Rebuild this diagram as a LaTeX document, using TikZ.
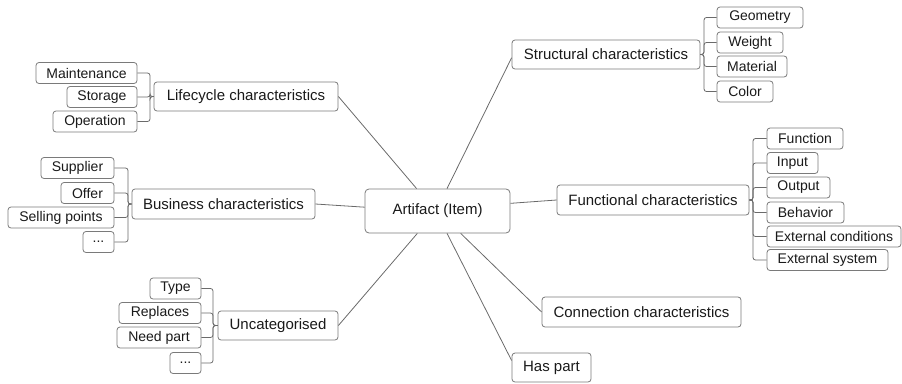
\documentclass[tikz,border=0pt]{standalone}
\usepackage{fontspec}
\setmainfont{Liberation Sans}
\usetikzlibrary{calc}
\definecolor{boxgray}{HTML}{7A7A7A}
\definecolor{linegray}{HTML}{6A6A6A}
\definecolor{txt}{HTML}{1A1A1A}
\begin{document}
\begin{tikzpicture}[x=1pt,y=-1pt,
  box/.style={draw=boxgray, rounded corners=3pt, line width=0.8pt, inner sep=0pt, align=center, text=txt, fill=white},
  mainbox/.style={box, font=\fontsize{15}{18}\selectfont, minimum height=29pt},
  leaf/.style={box, font=\fontsize{14}{16}\selectfont, minimum height=21pt},
  link/.style={draw=linegray, line width=0.8pt},
  bracket/.style={link, rounded corners=2.5pt}]
\useasboundingbox (0,0) rectangle (902,383);

% central node
\node[mainbox, minimum width=145pt, minimum height=44pt, rounded corners=4pt] (ai) at (437.5,211) {Artifact (Item)};

% main branches
\node[mainbox, minimum width=184pt] (lc) at (246,96.5) {Lifecycle characteristics};
\node[mainbox, minimum width=183pt, minimum height=30pt] (bu) at (223.5,204) {Business characteristics};
\node[mainbox, minimum width=120pt] (uc) at (278,325.5) {Uncategorised};
\node[mainbox, minimum width=188pt] (st) at (606,54.5) {Structural characteristics};
\node[mainbox, minimum width=192pt, minimum height=30pt] (fu) at (653,200) {Functional characteristics};
\node[mainbox, minimum width=199pt, minimum height=30pt] (co) at (641.5,312) {Connection characteristics};
\node[mainbox, minimum width=79pt] (hp) at (551.5,367.5) {Has part};

% lifecycle leaves
\node[leaf, minimum width=101pt] (mt) at (86.5,73) {Maintenance};
\node[leaf, minimum width=70pt] (sg) at (102,97) {Storage};
\node[leaf, minimum width=84pt] (op) at (95,121.5) {Operation};

% business leaves
\node[leaf, minimum width=73pt] (su) at (77.5,168) {Supplier};
\node[leaf, minimum width=53pt] (of) at (87.5,193) {Offer};
\node[leaf, minimum width=106pt] (sp) at (61,217.5) {Selling points};
\node[leaf, minimum width=31pt] (da) at (98.5,242) {...};

% uncategorised leaves
\node[leaf, minimum width=51pt] (ty) at (175.5,288.5) {Type};
\node[leaf, minimum width=82pt] (rp) at (160,313) {Replaces};
\node[leaf, minimum width=84pt] (np) at (159,337.5) {Need part};
\node[leaf, minimum width=31pt] (db) at (185.5,363) {...};

% structural leaves
\node[leaf, minimum width=86pt] (ge) at (760,17.5) {Geometry};
\node[leaf, minimum width=66pt] (we) at (750,42.5) {Weight};
\node[leaf, minimum width=70pt] (ma) at (752,66.5) {Material};
\node[leaf, minimum width=56pt] (cl) at (745,91.5) {Color};

% functional leaves
\node[leaf, minimum width=76pt] (fn) at (805,138.5) {Function};
\node[leaf, minimum width=51pt] (ip) at (792.5,163) {Input};
\node[leaf, minimum width=63pt] (ou) at (798.5,187.5) {Output};
\node[leaf, minimum width=77pt] (be) at (805.5,212.5) {Behavior};
\node[leaf, minimum width=134pt] (ec) at (834,236.5) {External conditions};
\node[leaf, minimum width=121pt] (es) at (827.5,260) {External system};

% spine coordinates
\coordinate (s1) at (150,0);
\coordinate (s2) at (128,0);
\coordinate (s3) at (213,0);
\coordinate (s4) at (704,0);
\coordinate (s5) at (753,0);

% central links
\draw[link] (lc.east) -- (ai.133);
\draw[link] (st.182) -- (ai.67);
\draw[link] (bu.east) -- (ai.177);
\draw[link] (fu.west) -- (ai.6);
\draw[link] (uc.east) -- (ai.-132);
\draw[link] (co.west) -- (ai.-44);
\draw[link] (hp.170) -- (ai.-67);

% brackets left
\foreach \c in {mt,sg,op}{\draw[bracket] (\c.east) -- (\c.east -| s1) |- (lc.west);}
\foreach \c in {su,of,sp,da}{\draw[bracket] (\c.east) -- (\c.east -| s2) |- (bu.west);}
\foreach \c in {ty,rp,np,db}{\draw[bracket] (\c.east) -- (\c.east -| s3) |- (uc.west);}
% brackets right
\foreach \c in {ge,we,ma,cl}{\draw[bracket] (\c.west) -- (\c.west -| s4) |- (st.east);}
\foreach \c in {fn,ip,ou,be,ec,es}{\draw[bracket] (\c.west) -- (\c.west -| s5) |- (fu.east);}
\end{tikzpicture}
\end{document}
